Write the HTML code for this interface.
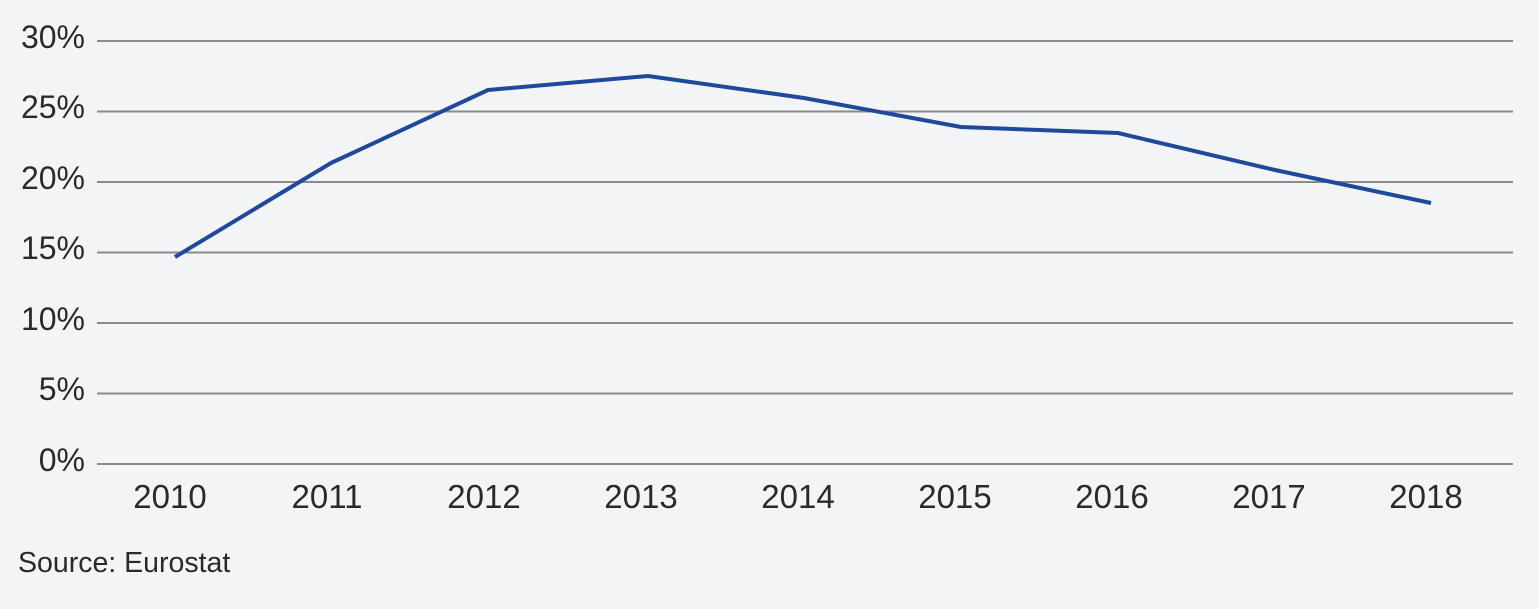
<!DOCTYPE html>
<html><head><style>
html,body{margin:0;padding:0;background:#f3f4f6;}
svg text{font-family:"Liberation Sans",sans-serif;fill:#2a2a2a;}
</style></head><body>
<svg width="1539" height="604" viewBox="0 0 1539 604" xmlns="http://www.w3.org/2000/svg">
<rect width="1539" height="604" fill="#f3f4f6"/>
<g stroke="#8a8a8a" stroke-width="2">
<line x1="97" y1="41" x2="1513" y2="41"/>
<line x1="97" y1="111.5" x2="1513" y2="111.5"/>
<line x1="97" y1="182" x2="1513" y2="182"/>
<line x1="97" y1="252.5" x2="1513" y2="252.5"/>
<line x1="97" y1="323" x2="1513" y2="323"/>
<line x1="97" y1="393.5" x2="1513" y2="393.5"/>
<line x1="97" y1="464" x2="1513" y2="464"/>
</g>
<g font-size="32" text-anchor="end">
<text x="85" y="48">30%</text>
<text x="85" y="118">25%</text>
<text x="85" y="189">20%</text>
<text x="85" y="259">15%</text>
<text x="85" y="330">10%</text>
<text x="85" y="400">5%</text>
<text x="85" y="471">0%</text>
</g>
<g font-size="33" text-anchor="middle">
<text x="170" y="508">2010</text>
<text x="327" y="508">2011</text>
<text x="484" y="508">2012</text>
<text x="641" y="508">2013</text>
<text x="798" y="508">2014</text>
<text x="955" y="508">2015</text>
<text x="1112" y="508">2016</text>
<text x="1269" y="508">2017</text>
<text x="1426" y="508">2018</text>
</g>
<polyline fill="none" stroke="#1f4a9c" stroke-width="4" stroke-linejoin="round" points="175,257 331,163 488,90 648,76 804,98 961,127 1118,133 1275,170 1431,203"/>
<text x="18" y="572" font-size="28.5">Source: Eurostat</text>
</svg>
</body></html>
